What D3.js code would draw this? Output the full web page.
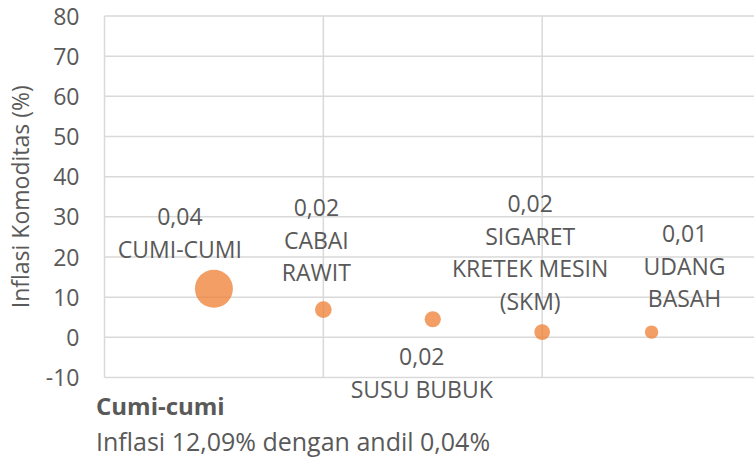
<!DOCTYPE html>
<html>
<head>
<meta charset="utf-8">
<script src="https://cdn.jsdelivr.net/npm/d3@7"></script>
<style>
  body { margin: 0; background: #fff; }
  svg { display: block; font-family: "Open Sans", sans-serif; }
</style>
</head>
<body>
<div id="chart"></div>
<script>
(function () {
  const WIDTH = 754;
  const HEIGHT = 459;

  // komoditas, posisi x, inflasi (%), andil (%)
  const commodities = ["CUMI-CUMI", "CABAI\nRAWIT", "SUSU BUBUK", "SIGARET\nKRETEK MESIN\n(SKM)", "UDANG\nBASAH"];
  const xPos = [1, 2, 3, 4, 5];
  const inflation = [12.09, 6.9, 4.5, 1.3, 1.3];
  const andil = [0.041, 0.018, 0.0175, 0.017, 0.0145];
  const andilLabels = ["0,04", "0,02", "0,02", "0,02", "0,01"];

  // label placement: side of bubble, horizontal nudge, gap to bubble edge
  const labelSide = ["above", "above", "below", "above", "above"];
  const labelNudge = [-34, -7, -11, -12, 33];
  const labelGap = [12, 20, 38, 14.5, 18];

  const yTicks = [-10, 0, 10, 20, 30, 40, 50, 60, 70, 80];
  const xGrid = [0, 2, 4, 6];

  const margin = { left: 104.5, top: 16, right: -7, bottom: 81.5 };
  const plotW = WIDTH - margin.left - margin.right;
  const plotH = HEIGHT - margin.top - margin.bottom;

  const x = d3.scaleLinear().domain([0, 6]).range([margin.left, margin.left + plotW]);
  const y = d3.scaleLinear().domain([-10, 80]).range([margin.top + plotH, margin.top]);
  const r = d3.scaleLinear().domain([0, 0.041]).range([0, 19]);

  const svg = d3.select("#chart").append("svg")
    .attr("width", WIDTH)
    .attr("height", HEIGHT);

  const grid = "#d9d9d9";
  const textCol = "#595959";

  // horizontal grid
  svg.append("g").selectAll("line").data(yTicks).join("line")
    .attr("x1", x(0)).attr("x2", x(6))
    .attr("y1", d => y(d)).attr("y2", d => y(d))
    .attr("stroke", grid).attr("stroke-width", 1.5);

  // vertical grid
  svg.append("g").selectAll("line").data(xGrid).join("line")
    .attr("x1", d => x(d)).attr("x2", d => x(d))
    .attr("y1", y(80)).attr("y2", y(-10))
    .attr("stroke", grid).attr("stroke-width", 1.5);

  // y axis labels
  const yAxis = svg.append("g")
    .attr("transform", `translate(${margin.left - 25},0)`)
    .call(d3.axisLeft(y).tickValues(yTicks).tickFormat(d => String(d)).tickSize(0).tickPadding(0));
  yAxis.select(".domain").remove();
  yAxis.selectAll("text")
    .attr("fill", textCol)
    .style("font-family", "Open Sans, sans-serif")
    .style("font-size", "23px")
    .attr("dy", "0.35em");

  svg.append("text")
    .attr("transform", `translate(29,${y(35)}) rotate(-90)`)
    .attr("text-anchor", "middle")
    .attr("fill", textCol)
    .style("font-size", "23px")
    .text("Inflasi Komoditas (%)");

  const data = commodities.map((name, i) => ({
    lines: [andilLabels[i]].concat(name.split("\n")),
    x: xPos[i], y: inflation[i], size: andil[i],
    side: labelSide[i], nudge: labelNudge[i], gap: labelGap[i]
  }));

  svg.append("g").selectAll("circle").data(data).join("circle")
    .attr("cx", d => x(d.x))
    .attr("cy", d => y(d.y))
    .attr("r", d => r(d.size))
    .attr("fill", "#ED7D31")
    .attr("fill-opacity", 0.75);

  const lineH = 32.5;
  const labels = svg.append("g").selectAll("text").data(data).join("text")
    .attr("text-anchor", "middle")
    .attr("fill", textCol)
    .style("font-size", "23px");

  labels.each(function (d) {
    const cx = x(d.x) + d.nudge;
    const n = d.lines.length;
    let base;
    if (d.side === "above") {
      base = y(d.y) - r(d.size) - d.gap - (n - 1) * lineH;
    } else {
      base = y(d.y) + r(d.size) + d.gap;
    }
    d3.select(this).selectAll("tspan").data(d.lines).join("tspan")
      .attr("x", cx)
      .attr("y", (t, i) => base + i * lineH)
      .text(t => t);
  });

  // keterangan
  svg.append("text")
    .attr("x", 96).attr("y", 415)
    .attr("fill", textCol)
    .style("font-size", "24px")
    .style("font-weight", "bold")
    .text("Cumi-cumi");

  svg.append("text")
    .attr("x", 96).attr("y", 451)
    .attr("fill", textCol)
    .style("font-size", "25px")
    .text("Inflasi 12,09% dengan andil 0,04%");
})();
</script>
</body>
</html>
